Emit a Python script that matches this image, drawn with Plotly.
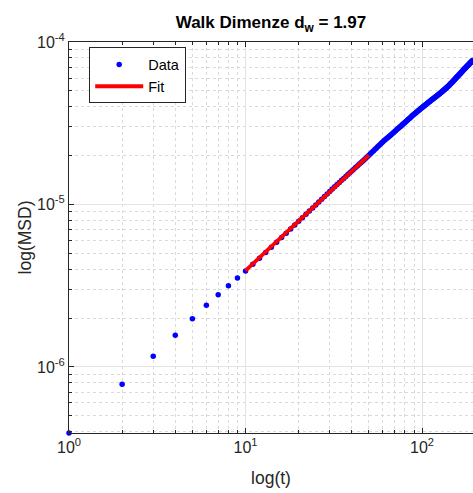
import math
import plotly.graph_objects as go

# Time steps and mean squared displacement (MSD, in units of 1e-6)
t = list(range(1, 194))
msd_1e6 = [
    0.392, 0.782, 1.164, 1.569, 1.977, 2.401, 2.780, 3.158, 3.524, 3.900,
    4.28, 4.67, 5.07, 5.46, 5.86, 6.26, 6.66, 7.06, 7.47, 7.88,
    8.29, 8.70, 9.11, 9.52, 9.94, 10.35, 10.77, 11.19, 11.60, 12.02,
    12.43, 12.84, 13.25, 13.66, 14.07, 14.47, 14.88, 15.28, 15.68, 16.08,
    16.48, 16.87, 17.27, 17.67, 18.06, 18.46, 18.86, 19.26, 19.67, 20.08,
    20.51, 20.93, 21.35, 21.77, 22.20, 22.63, 23.05, 23.48, 23.91, 24.34,
    24.72, 25.10, 25.48, 25.86, 26.24, 26.62, 27.00, 27.38, 27.76, 28.13,
    28.52, 28.91, 29.30, 29.68, 30.07, 30.45, 30.84, 31.23, 31.61, 32.00,
    32.39, 32.78, 33.17, 33.56, 33.95, 34.34, 34.73, 35.12, 35.50, 35.89,
    36.26, 36.62, 36.98, 37.34, 37.70, 38.06, 38.42, 38.77, 39.13, 39.49,
    39.83, 40.18, 40.52, 40.86, 41.21, 41.55, 41.89, 42.22, 42.56, 42.90,
    43.24, 43.57, 43.91, 44.24, 44.57, 44.90, 45.23, 45.57, 45.89, 46.22,
    46.56, 46.90, 47.23, 47.57, 47.90, 48.23, 48.57, 48.90, 49.23, 49.56,
    49.92, 50.29, 50.65, 51.01, 51.38, 51.74, 52.10, 52.46, 52.83, 53.19,
    53.61, 54.03, 54.46, 54.88, 55.31, 55.73, 56.16, 56.59, 57.01, 57.44,
    57.90, 58.35, 58.81, 59.27, 59.73, 60.19, 60.65, 61.11, 61.58, 62.04,
    62.49, 62.95, 63.40, 63.85, 64.31, 64.76, 65.22, 65.68, 66.13, 66.59,
    67.04, 67.48, 67.92, 68.37, 68.82, 69.26, 69.71, 70.16, 70.61, 71.06,
    71.50, 71.94, 72.38, 72.82, 73.26, 73.70, 74.14, 74.58, 75.02, 75.47,
    75.91, 76.35, 76.80,
]
msd = [v * 1e-6 for v in msd_1e6]

# Power-law fit MSD = A * t^(2/d_w) over the fitted window
dw = 1.97
fit_prefactor = 3.785e-7
fit_t_start, fit_t_end = 10, 50
fit_t = list(range(fit_t_start, fit_t_end + 1))
fit_msd = [fit_prefactor * tt ** (2.0 / dw) for tt in fit_t]

# Axis ticks
x_tickvals = [1, 10, 100]
x_ticktext = ["10<sup>0</sup>", "10<sup>1</sup>", "10<sup>2</sup>"]
y_tickvals = [1e-6, 1e-5, 1e-4]
y_ticktext = ["10<sup>-6</sup>", "10<sup>-5</sup>", "10<sup>-4</sup>"]

FONT = "Liberation Sans, Arial, Helvetica, sans-serif"
AX = "#262626"
GRID = "#e3e3e3"
MINOR_GRID = "#dadada"

fig = go.Figure()
fig.add_trace(go.Scatter(
    x=t, y=msd, mode="markers", name="Data",
    marker=dict(color="#0000ff", size=5.5, line=dict(width=0)),
    cliponaxis=False,
))
fig.add_trace(go.Scatter(
    x=fit_t, y=fit_msd, mode="lines", name="Fit",
    line=dict(color="#ff0000", width=3.8),
))

axis_common = dict(
    type="log",
    showline=True, linecolor=AX, linewidth=1,
    ticks="inside", ticklen=5, tickcolor=AX, tickwidth=1,
    showgrid=True, gridcolor=GRID, gridwidth=1,
    zeroline=False,
    tickfont=dict(family=FONT, size=16, color=AX),
    title_font=dict(family=FONT, size=17.5, color=AX),
    automargin=False,
)

fig.update_layout(
    width=473, height=493,
    margin=dict(l=69, r=0, t=42, b=60),
    paper_bgcolor="white", plot_bgcolor="white",
    title=dict(
        text=f"<b>Walk Dimenze d<sub>w</sub> = {dw:.2f}</b>",
        font=dict(family=FONT, size=17, color="black"),
        xref="paper", x=0.5, xanchor="center",
        yref="container", y=1 - 22 / 493, yanchor="middle",
    ),
    showlegend=True,
    legend=dict(
        x=0.05, y=0.986, xanchor="left", yanchor="top",
        bgcolor="white", bordercolor=AX, borderwidth=1,
        font=dict(family=FONT, size=14.5, color="black"),
        itemwidth=48, tracegroupgap=0,
    ),
)

fig.update_xaxes(
    **axis_common,
    range=[0, math.log10(194.3)],
    mirror="ticks",
    tickvals=x_tickvals, ticktext=x_ticktext,
    title_text="log(t)", title_standoff=16,
    minor=dict(dtick="D1", ticks="inside", ticklen=3, tickcolor=AX,
               showgrid=True, gridcolor=MINOR_GRID, griddash="dot"),
)
fig.update_yaxes(
    **axis_common,
    range=[math.log10(msd[0]), -4],
    tickvals=y_tickvals, ticktext=y_ticktext,
    title_text="log(MSD)", title_standoff=0,
    minor=dict(dtick="D1", ticks="inside", ticklen=3, tickcolor=AX,
               showgrid=True, gridcolor=MINOR_GRID, griddash="dot"),
)

fig.write_html("out.html")
